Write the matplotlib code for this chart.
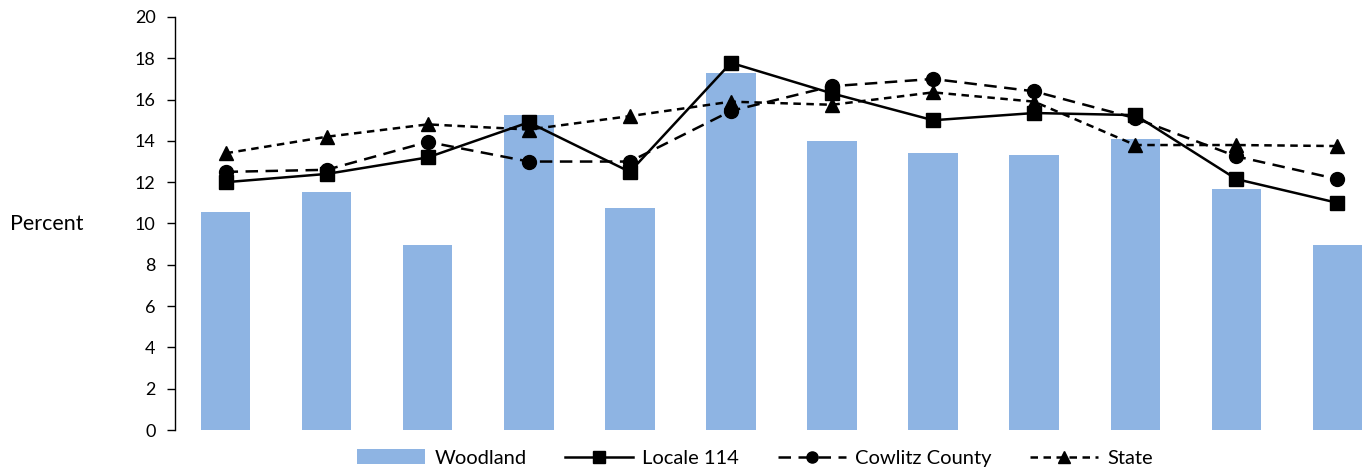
import matplotlib
matplotlib.use("Agg")
import matplotlib.pyplot as plt
import numpy as np

plt.rcParams['font.family'] = ['Lato', 'DejaVu Sans']

woodland = [10.56, 11.53, 8.96, 15.25, 10.75, 17.29, 14.0, 13.41, 13.32, 14.09, 11.67, 8.96]
locale_114 = [12.0, 12.4, 13.2, 14.9, 12.5, 17.78, 16.3, 15.0, 15.35, 15.25, 12.15, 11.0]
cowlitz = [12.5, 12.6, 13.95, 13.0, 13.0, 15.45, 16.65, 17.0, 16.4, 15.1, 13.25, 12.15]
state = [13.4, 14.2, 14.8, 14.55, 15.2, 15.9, 15.75, 16.35, 15.9, 13.8, 13.8, 13.75]

x = np.arange(len(woodland))

fig = plt.figure(figsize=(13.68, 4.73), dpi=100)
ax = fig.add_axes([175/1368, 1 - 430/473, 1213/1368, 413/473])

bars = ax.bar(x, woodland, width=0.49, color='#8EB4E3', label='Woodland', zorder=1)
l1, = ax.plot(x, locale_114, color='black', lw=1.8, marker='s', ms=10,
              label='Locale 114', zorder=3)
l2, = ax.plot(x, cowlitz, color='black', lw=1.8, ls=(0, (5, 3)), marker='o', ms=10,
              label='Cowlitz County', zorder=3)
l3, = ax.plot(x, state, color='black', lw=1.8, ls=(0, (3, 2.2)), marker='^', ms=10,
              label='State', zorder=3)

ax.set_xlim(-0.5, 11.5)
ax.set_ylim(0, 20)
ax.set_yticks(range(0, 21, 2))
ax.set_xticks([])
for s in ['top', 'right', 'bottom']:
    ax.spines[s].set_visible(False)
ax.spines['left'].set_linewidth(1.0)
ax.tick_params(axis='y', direction='out', length=6, width=1, labelsize=13, pad=8)

fig.text(10/1368, 1 - 224/473, 'Percent', fontsize=15.5, va='center', ha='left')

fig.legend([bars, l1, l2, l3], ['Woodland', 'Locale 114', 'Cowlitz County', 'State'],
           loc='center', bbox_to_anchor=(755/1368, 1 - 458/473), ncol=4,
           frameon=False, fontsize=14.5, handlelength=3.4, handletextpad=0.45,
           columnspacing=1.9, markerscale=0.8)

fig.savefig('out.png', dpi=100)
